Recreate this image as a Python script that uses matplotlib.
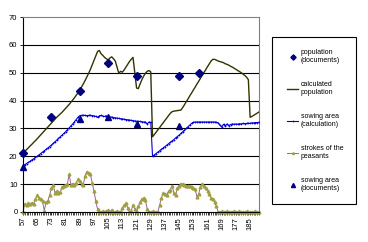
import matplotlib
matplotlib.use("Agg")
import matplotlib.pyplot as plt
from matplotlib.ticker import MultipleLocator
from matplotlib.patches import Rectangle

plt.rcParams['font.family'] = ['Liberation Sans', 'DejaVu Sans']

years = list(range(57, 191))
tick_years = [57, 65, 73, 81, 89, 97, 105, 113, 121, 129, 137, 145, 153, 161, 169, 177, 185]

calc_pop = [
    21.2, 21.8, 22.4, 23.0, 23.7, 24.3, 25.0, 25.6, 26.3, 27.0,
    27.7, 28.4, 29.1, 29.8, 30.5, 31.2, 31.9, 32.6, 33.3, 34.0,
    34.6, 35.2, 35.8, 36.5, 37.2, 37.9, 38.6, 39.4, 40.2, 41.0,
    41.9, 42.8, 43.8, 44.9, 46.0, 47.2, 48.5, 49.8, 51.2, 52.8,
    54.4, 56.0, 57.6, 58.0, 56.8, 56.2, 55.5, 55.0, 54.6, 55.3,
    55.7, 55.0, 54.2, 52.0, 49.8, 50.5, 50.2, 51.0, 52.0, 53.0,
    54.0, 54.8, 55.5, 50.0, 44.5, 44.3, 46.0, 47.5, 48.8, 49.8,
    50.5, 50.8, 50.3, 27.0, 27.8, 28.6, 29.5, 30.3, 31.2, 32.0,
    32.9, 33.7, 34.6, 35.4, 36.0, 36.2, 36.3, 36.4, 36.5, 36.6,
    37.5, 38.5, 39.6, 40.6, 41.7, 42.7, 43.8, 44.8, 45.9, 46.9,
    48.0, 49.0, 50.1, 51.1, 52.2, 53.2, 54.2, 54.8, 54.8, 54.5,
    54.2, 54.0, 53.8, 53.6, 53.2, 53.0, 52.7, 52.3, 52.0, 51.6,
    51.2, 50.8, 50.4, 50.0, 49.5, 49.0, 48.4, 47.5, 34.0, 34.3,
    34.7, 35.1, 35.5, 35.9,
]

sow_calc = [
    16.5, 17.0, 17.4, 17.8, 18.2, 18.7, 19.1, 19.6, 20.0, 20.5,
    21.0, 21.5, 22.0, 22.5, 23.0, 23.5, 24.0, 24.6, 25.2, 25.8,
    26.4, 27.0, 27.6, 28.2, 28.8, 29.5, 30.2, 30.9, 31.6, 32.4,
    33.2, 34.0, 34.6, 34.7, 34.7, 34.7, 34.6, 34.7, 34.7, 34.6,
    34.5, 34.3, 34.0, 34.5, 34.7, 34.4, 34.3, 34.5, 34.2, 34.0,
    34.1, 33.9, 33.8, 33.7, 33.6, 33.5, 33.4, 33.3, 33.2, 33.1,
    33.0, 32.9, 32.8, 32.7, 32.6, 32.5, 32.5, 32.4, 32.3, 32.3,
    31.6, 32.3, 32.2, 20.0, 20.5, 21.0, 21.5, 22.0, 22.5, 23.0,
    23.5, 24.0, 24.5, 25.0, 25.5, 26.0, 26.6, 27.1, 27.6, 28.2,
    28.8, 29.4, 30.0, 30.6, 31.2, 31.8, 32.2, 32.3, 32.3, 32.3,
    32.3, 32.3, 32.3, 32.3, 32.3, 32.3, 32.3, 32.3, 32.3, 32.2,
    32.0, 31.2, 30.5, 31.5, 30.8, 31.6, 31.0, 31.4, 31.6, 31.5,
    31.6, 31.5, 31.7, 31.6, 31.8, 31.7, 31.8, 31.9, 31.8, 32.0,
    32.0, 32.1, 32.1, 32.2,
]

strokes = [
    0.0, 3.0, 2.5, 3.2, 2.8, 3.3, 3.0, 4.5, 6.0, 5.2,
    4.5, 3.8, 0.5, 3.5, 4.0, 6.0, 8.5, 9.8, 7.0, 7.5,
    6.8, 7.2, 9.0, 9.5, 9.8, 10.0, 13.5, 9.8, 10.2, 9.8,
    10.5, 11.8, 11.0, 10.2, 9.8, 13.0, 14.5, 14.0, 13.5, 10.5,
    7.5, 4.0, 1.0, 0.0, 0.0, 0.3, 0.0, 0.2, 0.6, 0.0,
    0.8, 0.0, 0.0, 0.3, 0.0, 0.0, 1.5, 2.5, 3.2, 1.5,
    0.0, 0.5, 2.5, 1.0, 0.0, 2.0, 3.5, 4.8, 5.0, 4.2,
    1.0, 0.0, 0.0, 0.2, 0.0, 0.0, 0.0, 2.5, 5.0, 7.0,
    6.5, 6.2, 7.5, 8.0, 9.5, 7.0, 6.0, 8.5, 9.5, 10.2,
    10.0, 9.8, 9.5, 9.5, 9.2, 8.8, 8.5, 8.2, 5.5, 6.5,
    9.0, 10.2, 9.2, 8.5, 7.5, 6.5, 5.0, 4.5, 3.5, 2.0,
    0.0, 0.0, 0.2, 0.0, 0.0, 0.2, 0.0, 0.0, 0.0, 0.2,
    0.0, 0.0, 0.2, 0.0, 0.0, 0.0, 0.2, 0.0, 0.0, 0.0,
    0.0, 0.2, 0.0, 0.0,
]

pop_doc_years = [57, 73, 89, 105, 121, 145, 156]
pop_doc = [21.2, 34.0, 43.5, 53.5, 49.0, 49.0, 50.0]

sow_doc_years = [57, 89, 105, 121, 145]
sow_doc = [16.0, 33.5, 34.0, 31.5, 31.0]

labels = ["population\n(documents)", "calculated\npopulation", "sowing area\n(calculation)",
          "strokes of the\npeasants", "sowing area\n(documents)"]

W, H = 368, 242
fig = plt.figure(figsize=(W/100, H/100), dpi=100)
ax = fig.add_axes([23/W, 1-212/H, (259-23)/W, (212-17)/H])

for y in range(10, 70, 10):
    ax.axhline(y, color='black', lw=0.8, zorder=0)

h_strokes, = ax.plot(years, strokes, color='#996699', lw=0.7, marker='^', ms=2.0,
                     mfc='#A0A040', mec='#A0A040', label=labels[3], zorder=2, clip_on=False)
h_calc, = ax.plot(years, calc_pop, color='#333300', lw=1.0, label=labels[1], zorder=3)
h_sow, = ax.plot(years, sow_calc, color='#0000DD', lw=0.8, marker='+', ms=1.6, mew=0.5,
                 label=labels[2], zorder=3)
h_popdoc, = ax.plot(pop_doc_years, pop_doc, ls='none', marker='D', ms=3.8, color='#000080',
                    label=labels[0], zorder=4, clip_on=False)
h_sowdoc, = ax.plot(sow_doc_years, sow_doc, ls='none', marker='^', ms=4.2, color='#000080',
                    label=labels[4], zorder=4, clip_on=False)

ax.set_xlim(57, 190)
ax.set_ylim(0, 70)
ax.set_yticks(range(0, 71, 10))
ax.set_xticks(tick_years)
ax.set_xticklabels([str(t) for t in tick_years], rotation=90, fontsize=5.5)
ax.xaxis.set_minor_locator(MultipleLocator(1))
ax.tick_params(axis='x', which='major', length=2.5, width=0.6, pad=1)
ax.tick_params(axis='x', which='minor', length=2, width=0.5)
ax.tick_params(axis='y', length=2, width=0.6, labelsize=5.5, pad=2)

for s in ['top', 'right']:
    ax.spines[s].set_color('#808080')
    ax.spines[s].set_linewidth(0.8)
ax.spines['left'].set_linewidth(0.8)
ax.spines['bottom'].set_linewidth(0.8)

leg = fig.legend([h_popdoc, h_calc, h_sow, h_strokes, h_sowdoc], labels,
                 loc='center left', bbox_to_anchor=(287/W, 1-120.5/H),
                 fontsize=5, frameon=False, numpoints=1, markerscale=0.7,
                 handlelength=1.6, handletextpad=0.35, labelspacing=2.45,
                 borderpad=0, borderaxespad=0)

fig.add_artist(Rectangle((272/W, 1-204/H), (356-272)/W, (204-37)/H,
                         transform=fig.transFigure, fill=False,
                         edgecolor='black', lw=0.8))

fig.savefig('out.png', dpi=100)
